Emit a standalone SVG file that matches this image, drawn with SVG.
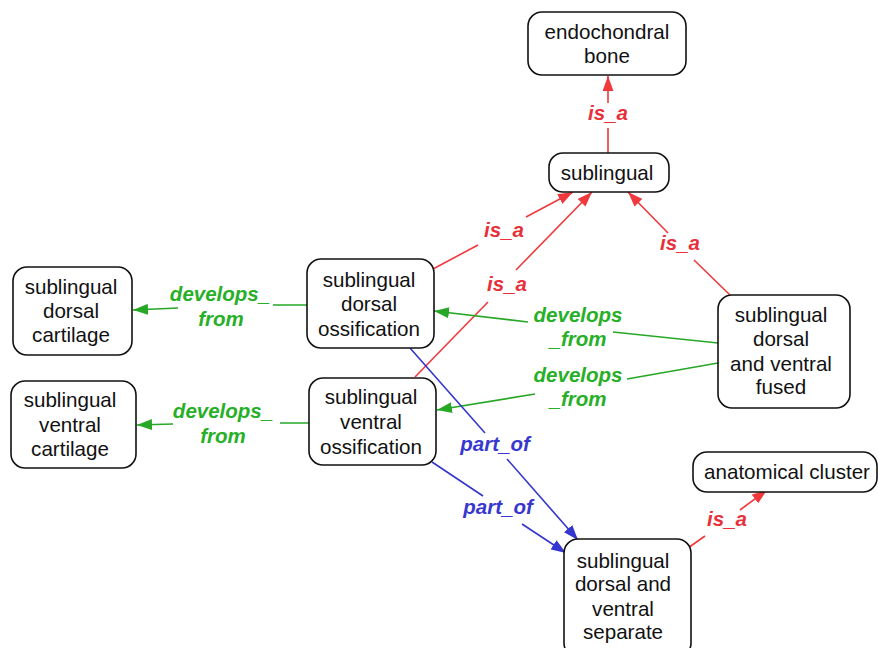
<svg xmlns="http://www.w3.org/2000/svg" width="878" height="648" viewBox="0 0 878 648">
<style>
.node rect{fill:#fff;stroke:#111;stroke-width:1.6}
.node text{font-family:"Liberation Sans",Arial,sans-serif;font-size:20.6px;fill:#111;text-anchor:middle}
.lbl{font-family:"Liberation Sans",Arial,sans-serif;font-size:20.5px;font-weight:bold;font-style:italic;text-anchor:middle}
.red{stroke:#f0393c;fill:none;stroke-width:1.6}
.green{stroke:#26a826;fill:none;stroke-width:1.6}
.blue{stroke:#3535d0;fill:none;stroke-width:1.6}
.lr{fill:#e8303a}
.lg{fill:#27b027}
.lb{fill:#3838d0}
</style>
<defs>
<marker id="ar" viewBox="0 0 15 11" refX="15" refY="5.5" markerWidth="15" markerHeight="11" markerUnits="userSpaceOnUse" orient="auto"><path d="M0,0 L15,5.5 L0,11 z" fill="#f0393c"/></marker>
<marker id="ag" viewBox="0 0 15 11" refX="15" refY="5.5" markerWidth="15" markerHeight="11" markerUnits="userSpaceOnUse" orient="auto"><path d="M0,0 L15,5.5 L0,11 z" fill="#26a826"/></marker>
<marker id="ab" viewBox="0 0 15 11" refX="15" refY="5.5" markerWidth="15" markerHeight="11" markerUnits="userSpaceOnUse" orient="auto"><path d="M0,0 L15,5.5 L0,11 z" fill="#3535d0"/></marker>
</defs>
<rect width="878" height="648" fill="#fff"/>
<g id="connectors">
<path class="red" d="M608,153 L608,128 M608,103 L608,76" marker-end="url(#ar)"/>
<text class="lbl lr" x="608" y="120">is_a</text>
<path class="red" d="M433,269 L478,245 M526,217 L573,192" marker-end="url(#ar)"/>
<text class="lbl lr" x="504" y="237">is_a</text>
<path class="red" d="M415,377 L488,302 M516,270 L592,192" marker-end="url(#ar)"/>
<text class="lbl lr" x="507" y="291">is_a</text>
<path class="red" d="M730,295 L694,260 M668,233 L628,192" marker-end="url(#ar)"/>
<text class="lbl lr" x="680" y="250">is_a</text>
<path class="green" d="M307,305 L273,305 M178,308 L133,310" marker-end="url(#ag)"/>
<text class="lbl lg" x="220" y="301">develops_</text>
<text class="lbl lg" x="221" y="326">from</text>
<path class="green" d="M309,423 L280,423 M173,424 L137,425" marker-end="url(#ag)"/>
<text class="lbl lg" x="223" y="418">develops_</text>
<text class="lbl lg" x="223" y="443">from</text>
<path class="green" d="M718,343 L613,332 M528,322 L434,311" marker-end="url(#ag)"/>
<text class="lbl lg" x="578" y="322">develops</text>
<text class="lbl lg" x="578" y="346">_from</text>
<path class="green" d="M718,363 L627,379 M535,394 L437,410" marker-end="url(#ag)"/>
<text class="lbl lg" x="578" y="382">develops</text>
<text class="lbl lg" x="578" y="406">_from</text>
<path class="blue" d="M410,348 L485,433 M507,459 L578,540" marker-end="url(#ab)"/>
<text class="lbl lb" x="495" y="451">part_of</text>
<path class="blue" d="M432,462 L483,496 M522,524 L566,553" marker-end="url(#ab)"/>
<text class="lbl lb" x="498" y="514">part_of</text>
<path class="red" d="M688,548 L705,536 M740,510 L767,490" marker-end="url(#ar)"/>
<text class="lbl lr" x="727" y="526">is_a</text>
</g>
<g id="endochondral_bone" class="node"><rect x="528" y="12" width="158" height="63" rx="14"/><text x="607" y="39">endochondral</text><text x="607" y="63">bone</text></g>
<g id="sublingual" class="node"><rect x="549" y="153" width="120" height="39" rx="14"/><text x="607" y="180">sublingual</text></g>
<g id="sublingual_dorsal_cartilage" class="node"><rect x="13" y="267" width="119" height="88" rx="14"/><text x="71" y="294">sublingual</text><text x="71" y="318">dorsal</text><text x="71" y="342">cartilage</text></g>
<g id="sublingual_dorsal_ossification" class="node"><rect x="307" y="259" width="127" height="89" rx="14"/><text x="369" y="287">sublingual</text><text x="369" y="311">dorsal</text><text x="369" y="336">ossification</text></g>
<g id="sublingual_ventral_cartilage" class="node"><rect x="11" y="381" width="125" height="87" rx="14"/><text x="70" y="407">sublingual</text><text x="70" y="432">ventral</text><text x="70" y="456">cartilage</text></g>
<g id="sublingual_ventral_ossification" class="node"><rect x="309" y="378" width="127" height="87" rx="14"/><text x="371" y="404">sublingual</text><text x="371" y="429">ventral</text><text x="371" y="454">ossification</text></g>
<g id="sublingual_dorsal_and_ventral_fused" class="node"><rect x="718" y="295" width="132" height="113" rx="14"/><text x="781" y="322">sublingual</text><text x="781" y="346">dorsal</text><text x="781" y="371">and ventral</text><text x="781" y="394">fused</text></g>
<g id="anatomical_cluster" class="node"><rect x="693" y="452" width="184" height="40" rx="14"/><text x="787" y="479">anatomical cluster</text></g>
<g id="sublingual_dorsal_and_ventral_separate" class="node"><rect x="564" y="539" width="127" height="118" rx="14"/><text x="623" y="568">sublingual</text><text x="623" y="591">dorsal and</text><text x="623" y="616">ventral</text><text x="623" y="639">separate</text></g>
</svg>
